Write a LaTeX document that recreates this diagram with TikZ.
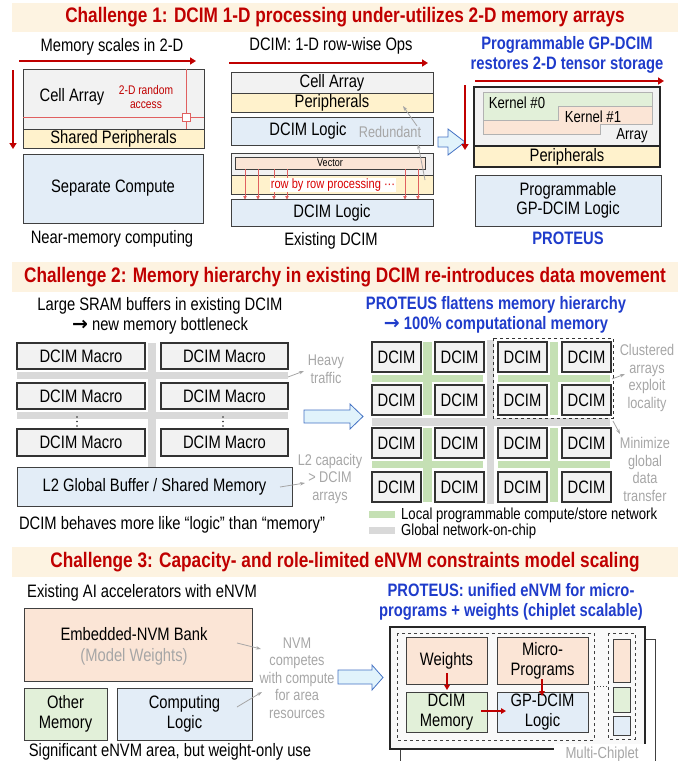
\documentclass[tikz,border=0pt]{standalone}
\usepackage{fontspec}
\setmainfont{Liberation Sans}[FakeStretch=0.82]
\newfontfamily\symfont{DejaVu Sans}
\usetikzlibrary{arrows.meta}

\definecolor{hdr}{HTML}{FDF3E1}
\definecolor{dred}{HTML}{C00000}
\definecolor{lred}{HTML}{E06060}
\definecolor{pblue}{HTML}{1F3CCB}
\definecolor{gtext}{HTML}{A6A6A6}
\definecolor{fgray}{HTML}{F2F2F2}
\definecolor{fyel}{HTML}{FFF2CC}
\definecolor{fblue}{HTML}{E3EDF7}
\definecolor{fpeach}{HTML}{FBE5D6}
\definecolor{fgreen}{HTML}{E2F0D9}
\definecolor{bline}{HTML}{404040}
\definecolor{gbar}{HTML}{C5E0B4}
\definecolor{nbar}{HTML}{D9D9D9}
\definecolor{arrfill}{HTML}{E1F3FB}
\definecolor{arrline}{HTML}{4472C4}

\newcommand\szBody{\fontsize{18}{19.5}\selectfont}
\newcommand\szTitle{\fontsize{21}{22}\selectfont\bfseries}
\newcommand\szBlue{\fontsize{18}{20}\selectfont\bfseries}
\newcommand\szNote{\fontsize{15.5}{17.5}\selectfont}
\newcommand\szSmall{\fontsize{12.5}{14}\selectfont}
\newcommand\szTiny{\fontsize{11}{12}\selectfont}
\newcommand\szKer{\fontsize{16}{17}\selectfont}
\newcommand\szLeg{\fontsize{16}{17}\selectfont}
% heavy arrow glyph used inside text lines
\newcommand\harr{{\symfont\bfseries\fontsize{19}{19}\selectfont →}}

% box from corner (x1,y1) to (x2,y2): name, x1, y1, x2, y2, options, text
\newcommand\bx[7]{\node[boxn,#6,minimum width={(#4-#2)*1pt},minimum height={(#5-#3)*1pt}] (#1) at ({(#2+#4)/2},{(#3+#5)/2}) {#7};}

\begin{document}
\begin{tikzpicture}[x=1pt,y=-1pt,
  boxn/.style={draw=bline, line width=1pt, inner sep=0pt, outer sep=0pt, font=\szBody, align=center},
  dbox/.style={boxn, draw=black!80, line width=1.3pt, fill=fgray},
  lbl/.style={inner sep=0pt, font=\szBody, align=center},
  note/.style={inner sep=0pt, font=\szNote, text=gtext, align=center},
  ttl/.style={inner sep=0pt, font=\szTitle, text=dred},
  blt/.style={inner sep=0pt, font=\szBlue, text=pblue, align=center},
  redarr/.style={draw=dred, line width=1.8pt, -{Triangle[length=6pt,width=7pt]}},
  redarrs/.style={draw=dred, line width=1.5pt, -{Triangle[length=5pt,width=5.5pt]}},
  thinred/.style={draw=lred, line width=0.8pt, -{Triangle[length=3.5pt,width=3.5pt]}},
  grayarr/.style={draw=gtext, line width=0.8pt, -{Stealth[length=5pt,width=3.5pt]}},
  blockarr/.style={draw=arrline, fill=arrfill, line width=0.8pt, line join=miter},
  band/.style={fill=hdr}]
\useasboundingbox (0,0) rectangle (699,761);

% ---------------- Challenge 1 ----------------
\fill[band] (12,3) rectangle (678,32);
\node[ttl] (t1) at (345,17.5) {Challenge 1: DCIM 1-D processing under-utilizes 2-D memory arrays};

% near-memory computing
\node[lbl] (msc) at (112,47) {Memory scales in 2-D};
\coordinate (ha) at (19,61); \coordinate (hb) at (196,61);
\draw[redarr] (ha) -- (hb);
\coordinate (va) at (13,70); \coordinate (vb) at (13,149);
\draw[redarr] (va) -- (vb);
\bx{cellL}{23}{69}{204}{129}{fill=fgray}{}
\bx{periL}{23}{129}{204}{148}{fill=fyel}{Shared Peripherals}
\node[lbl] (cellLt) at (72,97) {Cell Array};
\coordinate (rl1) at (23,117); \coordinate (rl2) at (204,117);
\coordinate (rv1) at (186,69); \coordinate (rv2) at (186,129);
\draw[lred, line width=1pt] (rl1) -- (rl2);
\draw[lred, line width=1pt] (rv1) -- (rv2);
\node[draw=lred, fill=white, line width=1pt, minimum size=8pt, inner sep=0pt] (sq) at (186,117) {};
\node[lbl, font=\szSmall, text=dred] (rnd) at (146,97) {2-D random\\access};
\bx{compL}{23}{154}{203}{223}{fill=fblue}{Separate Compute}
\node[lbl] (nmc) at (112,239) {Near-memory computing};

% existing DCIM
\node[lbl] (dops) at (331,46) {DCIM: 1-D row-wise Ops};
\coordinate (ma) at (229,63); \coordinate (mb) at (428,63);
\draw[redarr] (ma) -- (mb);
\bx{cellM}{231}{72}{433}{93}{fill=fgray}{Cell Array}
\bx{periM}{231}{93}{433}{112}{fill=fyel}{Peripherals}
\bx{logM}{231}{117}{433}{145}{fill=fblue}{}
\node[lbl] (logMt) at (308,131) {DCIM Logic};
\node[note] (redn) at (390,132) {Redundant};
\bx{vecA}{231}{153}{433}{175}{fill=fgray}{}
\bx{vecB}{231}{175}{433}{194}{fill=fyel}{}
\bx{vec}{235}{157}{425}{169}{fill=fpeach, line width=0.8pt, font=\szTiny}{Vector}
\bx{logM2}{231}{199}{433}{226}{fill=fblue}{DCIM Logic}
\foreach \xx in {245,258,274,287,405,418}{
  \coordinate (ra) at (\xx,169); \coordinate (rb) at (\xx,199.5);
  \draw[thinred] (ra) -- (rb);
}
\node[lbl, font=\fontsize{13.5}{14}\selectfont, text=red!85!black, fill=white, inner sep=1pt] (rbr) at (333,185) {row by row processing ···};
\coordinate (g1a) at (417,126); \coordinate (g1b) at (403,106);
\draw[grayarr] (g1a) -- (g1b);
\coordinate (g2a) at (425,180); \coordinate (g2b) at (418,144);
\draw[grayarr] (g2a) -- (g2b);
\node[lbl] (exd) at (331,241) {Existing DCIM};

\draw[blockarr] (438,137) -- (448,137) -- (448,129) -- (465,142) -- (448,155) -- (448,147) -- (438,147) -- cycle;

% PROTEUS tensor storage
\node[blt] (rt) at (567,55) {Programmable GP-DCIM\\restores 2-D tensor storage};
\coordinate (pa) at (475,81); \coordinate (pb) at (664,81);
\draw[redarr] (pa) -- (pb);
\coordinate (pc) at (465,85); \coordinate (pd) at (465,150);
\draw[redarr] (pc) -- (pd);
\bx{arrR}{474}{87}{660}{146}{fill=fgray, line width=1.3pt, draw=black!85}{}
\draw[draw=gray!60, fill=fgreen, line width=0.8pt] (483,92) -- (652,92) -- (652,106) -- (558,106) -- (558,120) -- (483,120) -- cycle;
\draw[draw=gray!60, fill=fpeach, line width=0.8pt] (483,120) -- (558,120) -- (558,106) -- (652,106) -- (652,124) -- (600,124) -- (600,134) -- (483,134) -- cycle;
\node[lbl, font=\szKer] (k0) at (517,103) {Kernel \#0};
\node[lbl, font=\szKer] (k1) at (593,117) {Kernel \#1};
\node[lbl, font=\szKer] (arrt) at (632,136) {Array};
\bx{periR}{474}{146}{660}{167}{fill=fyel, line width=1.3pt, draw=black!85}{Peripherals}
\bx{logR}{475}{175}{661}{226}{fill=fblue}{Programmable\\GP-DCIM Logic}
\node[blt] (prt) at (568,238) {PROTEUS};

% ---------------- Challenge 2 ----------------
\fill[band] (12,262) rectangle (678,292);
\node[ttl] (t2) at (345,277) {Challenge 2: Memory hierarchy in existing DCIM re-introduces data movement};

\node[lbl] (lg) at (160,316) {Large SRAM buffers in existing DCIM\\\harr{} new memory bottleneck};
\fill[nbar] (148,343) rectangle (156,467);
\fill[nbar] (17,372) rectangle (288,379);
\fill[nbar] (17,412) rectangle (288,419);
\bx{m11}{17}{343}{145}{369}{dbox}{DCIM Macro}
\bx{m12}{161}{343}{288}{369}{dbox}{DCIM Macro}
\bx{m21}{17}{383}{145}{409}{dbox}{DCIM Macro}
\bx{m22}{161}{383}{288}{409}{dbox}{DCIM Macro}
\bx{m31}{17}{429}{145}{456}{dbox}{DCIM Macro}
\bx{m32}{161}{429}{288}{456}{dbox}{DCIM Macro}
% vertical ellipses between macro rows
\foreach \dx in {77,223}{
  \foreach \dy in {417,421.5,426}{
    \fill[black!85] (\dx,\dy) circle (0.9);
  }
}
\bx{l2}{17}{467}{292}{506}{fill=fblue}{L2 Global Buffer / Shared Memory}
\node[lbl] (beh) at (172,525) {DCIM behaves more like “logic” than “memory”};
\node[note] (hv) at (326,369) {Heavy\\traffic};
\coordinate (h2a) at (288,377); \coordinate (h2b) at (304,371);
\draw[grayarr] (h2a) -- (h2b);
\node[note] (l2c) at (330,478.5) {L2 capacity\\> DCIM\\arrays};
\coordinate (l2a) at (280,487); \coordinate (l2b) at (305,483);
\draw[grayarr] (l2a) -- (l2b);

\draw[blockarr] (304,410) -- (350,410) -- (350,404) -- (363,416.5) -- (350,429) -- (350,423) -- (304,423) -- cycle;

\node[blt] (ft) at (496,315) {PROTEUS flattens memory hierarchy\\\harr{} 100\% computational memory};
% local (green) and global (gray) networks
\fill[gbar] (423,342) rectangle (432,415);
\fill[gbar] (423,428) rectangle (432,502);
\fill[gbar] (550,342) rectangle (558,415);
\fill[gbar] (550,428) rectangle (558,502);
\fill[gbar] (372,375) rectangle (483,382);
\fill[gbar] (498,375) rectangle (610,382);
\fill[gbar] (372,461) rectangle (483,468);
\fill[gbar] (498,461) rectangle (610,468);
\fill[nbar] (487,340) rectangle (494,504);
\fill[nbar] (372,418) rectangle (610,426);
\foreach \cx/\ci in {372/1,435/2,498/3,562/4}{
  \foreach \ry/\rj in {342/1,385/2,428/3,472/4}{
    \bx{d\ci\rj}{\cx}{\ry}{\cx+49}{\ry+30}{dbox}{DCIM}
  }
}
\draw[dashed, line width=1pt, black!80] (493,338) rectangle (613,418);
\node[note] (cl) at (647,378) {Clustered\\arrays\\exploit\\locality};
\coordinate (c2a) at (612,379); \coordinate (c2b) at (625,374);
\draw[grayarr] (c2a) -- (c2b);
\node[note] (mn) at (645,469.5) {Minimize\\global\\data\\transfer};
\coordinate (m2a) at (613,421); \coordinate (m2b) at (620,434);
\draw[grayarr] (m2a) -- (m2b);
\fill[gbar] (369,511) rectangle (395,518);
\node[lbl, font=\szLeg, anchor=west] (lg1) at (401,515.5) {Local programmable compute/store network};
\fill[nbar] (369,527) rectangle (395,534);
\node[lbl, font=\szLeg, anchor=west] (lg2) at (401,531.5) {Global network-on-chip};

% ---------------- Challenge 3 ----------------
\fill[band] (12,547) rectangle (678,577);
\node[ttl] (t3) at (345,562) {Challenge 3: Capacity- and role-limited eNVM constraints model scaling};

\node[lbl] (ex) at (142,593) {Existing AI accelerators with eNVM};
\bx{nvm}{24}{608}{252}{681}{fill=fpeach}{}
\node[lbl] (nvmt) at (134,634) {Embedded-NVM Bank};
\node[lbl, text=gtext] (nvmw) at (134,657) {(Model Weights)};
\bx{oth}{24}{688}{107}{740}{fill=fgreen, font=\fontsize{18}{20}\selectfont}{Other\\Memory}
\bx{cmp}{117}{688}{252}{740}{fill=fblue, font=\fontsize{18}{20}\selectfont}{Computing\\Logic}
\node[lbl] (sig) at (170,752) {Significant eNVM area, but weight-only use};
\node[note] (cmpt) at (297,678) {NVM\\competes\\with compute\\for area\\resources};
\coordinate (n1a) at (237,643); \coordinate (n1b) at (261,649);
\draw[grayarr] (n1a) -- (n1b);
\coordinate (n2a) at (237,707); \coordinate (n2b) at (262,692);
\draw[grayarr] (n2a) -- (n2b);

\draw[blockarr] (338,670) -- (372,670) -- (372,665) -- (383,677.5) -- (372,690) -- (372,684) -- (338,684) -- cycle;

\node[blt] (ut) at (511,602) {PROTEUS: unified eNVM for micro-\\programs + weights (chiplet scalable)};
% stacked chiplets
\fill[white] (400,639) rectangle (655,761);
\draw[bline, line width=1pt] (400,762) -- (400,639) -- (655,639) -- (655,762);
\bx{chip}{390}{627}{645}{749}{fill=gray!5, line width=1.2pt, draw=black!85}{}
\draw[dashed, bline, line width=0.9pt] (397,633) rectangle (594,740);
\bx{wts}{406}{637}{487}{684}{fill=fpeach}{Weights}
\bx{mpg}{497}{637}{588}{684}{fill=fpeach, font=\fontsize{18}{20}\selectfont}{Micro-\\Programs}
\bx{dmem}{406}{692}{487}{732}{fill=fgreen, font=\fontsize{18}{20}\selectfont}{DCIM\\Memory}
\bx{gpl}{497}{692}{588}{732}{fill=fblue, font=\fontsize{18}{20}\selectfont}{GP-DCIM\\Logic}
\coordinate (w1) at (447,673); \coordinate (w2) at (447,690);
\draw[redarrs] (w1) -- (w2);
\coordinate (p1) at (542,679); \coordinate (p2) at (542,696);
\draw[redarrs] (p1) -- (p2);
\coordinate (d1) at (481,711); \coordinate (d2) at (506,711);
\draw[redarrs] (d1) -- (d2);
\draw[dashed, bline, line width=0.9pt] (608,633) rectangle (635,739);
\bx{cp}{613}{639}{630}{682}{fill=fpeach}{}
\bx{cg}{613}{687}{630}{712}{fill=fgreen}{}
\bx{cb}{613}{716}{630}{735}{fill=fblue}{}
\draw[dotted, bline, line width=1pt] (594,686) -- (608,686);
\node[note, fill=white, font=\fontsize{16}{17}\selectfont, minimum width=97pt, minimum height=20pt] (mcl) at (602,754) {Multi-Chiplet};
\end{tikzpicture}
\end{document}
